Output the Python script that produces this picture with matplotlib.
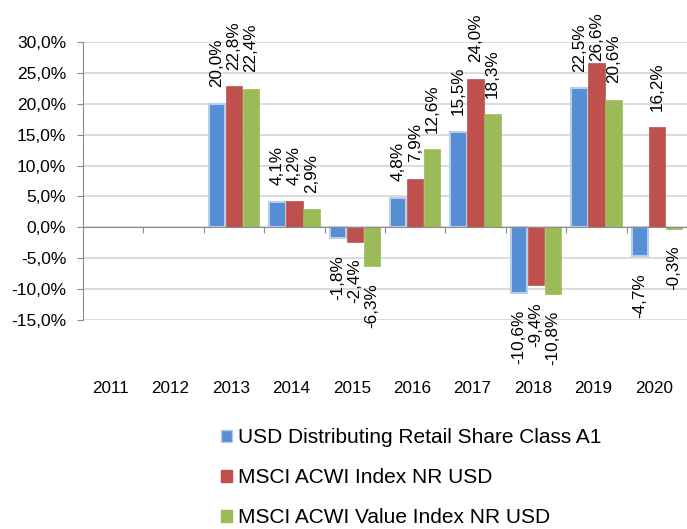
import numpy as np
import matplotlib
matplotlib.use("Agg")
import matplotlib.pyplot as plt
from matplotlib.patches import Patch
from matplotlib.transforms import blended_transform_factory

plt.rcParams["font.family"] = ["Liberation Sans", "DejaVu Sans"]

years = ["2011", "2012", "2013", "2014", "2015", "2016", "2017", "2018", "2019", "2020"]
series_names = [
    "USD Distributing Retail Share Class A1",
    "MSCI ACWI Index NR USD",
    "MSCI ACWI Value Index NR USD",
]
fund = [np.nan, np.nan, 20.0, 4.1, -1.8, 4.8, 15.5, -10.6, 22.5, -4.7]
acwi = [np.nan, np.nan, 22.8, 4.2, -2.4, 7.9, 24.0, -9.4, 26.6, 16.2]
acwi_value = [np.nan, np.nan, 22.4, 2.9, -6.3, 12.6, 18.3, -10.8, 20.6, -0.3]
yticks = [-15, -10, -5, 0, 5, 10, 15, 20, 25, 30]

colors = ["#558ED5", "#C0504D", "#9BBB59"]
edges = ["#B9CDE5", "#C0504D", "#9BBB59"]


def fmt(v):
    return f"{v:.1f}%".replace(".", ",")


fig = plt.figure(figsize=(6.87, 5.29), dpi=100)
ax = fig.add_axes([83 / 687, 1 - 320 / 529, 1 - 83 / 687, (320 - 42) / 529])

x = np.arange(len(years))
width = 0.28
labels = []
for i, (vals, c, ec) in enumerate(zip([fund, acwi, acwi_value], colors, edges)):
    pos = x + (i - 1) * width
    lw = 1.5 if i == 0 else 0.5
    ax.bar(pos, vals, width=width * 0.97, color=c, edgecolor=ec, linewidth=lw, zorder=3)
    for p, v in zip(pos, vals):
        if np.isnan(v):
            continue
        off = 12 if v >= 0 else -12
        t = ax.annotate(fmt(v), (p, v), xytext=(0, off), textcoords="offset points",
                        rotation=90, ha="center", va="bottom" if v >= 0 else "top",
                        fontsize=12.3, color="#000000", zorder=4)
        labels.append(t)

ax.set_xlim(-0.5, len(years) - 0.5)
ax.set_ylim(-15, 30)
ax.set_yticks(yticks)
ax.set_yticklabels([f"{t:.1f}%".replace(".", ",") for t in yticks], fontsize=12.5)
ax.yaxis.grid(True, color="#D9D9D9", linewidth=1.3, zorder=0)

for s in ["top", "right"]:
    ax.spines[s].set_visible(False)
ax.spines["left"].set_color("#8C8C8C")
ax.spines["bottom"].set_position(("data", 0))
ax.spines["bottom"].set_color("#8C8C8C")
ax.spines["bottom"].set_zorder(5)
ax.tick_params(axis="y", length=4, color="#8C8C8C", pad=8)
ax.set_xticks(np.arange(len(years) + 1) - 0.5)
ax.set_xticklabels([])
ax.tick_params(axis="x", length=4, color="#8C8C8C", direction="out")

trans = blended_transform_factory(ax.transData, ax.transAxes)
for xi, yr in zip(x, years):
    ax.text(xi - 0.05, -0.245, yr, transform=trans, ha="center", va="center", fontsize=12.3)

handles = [Patch(facecolor=c, edgecolor=ec, linewidth=1) for c, ec in zip(colors, edges)]
fig.legend(handles, series_names, loc="upper left", bbox_to_anchor=(213 / 687, 1 - 420 / 529),
           frameon=False, fontsize=15, handlelength=0.5, handleheight=0.5,
           handletextpad=0.3, labelspacing=1.0, borderaxespad=0)

# keep data labels inside the picture, like the spreadsheet does
fig.canvas.draw()
renderer = fig.canvas.get_renderer()
top_limit = fig.bbox.height - 12
for t in labels:
    bb = t.get_window_extent(renderer)
    if bb.y1 > top_limit:
        ox, oy = t.xyann
        t.xyann = (ox, oy - (bb.y1 - top_limit) * 72 / fig.dpi)

fig.savefig("out.png", dpi=100)
